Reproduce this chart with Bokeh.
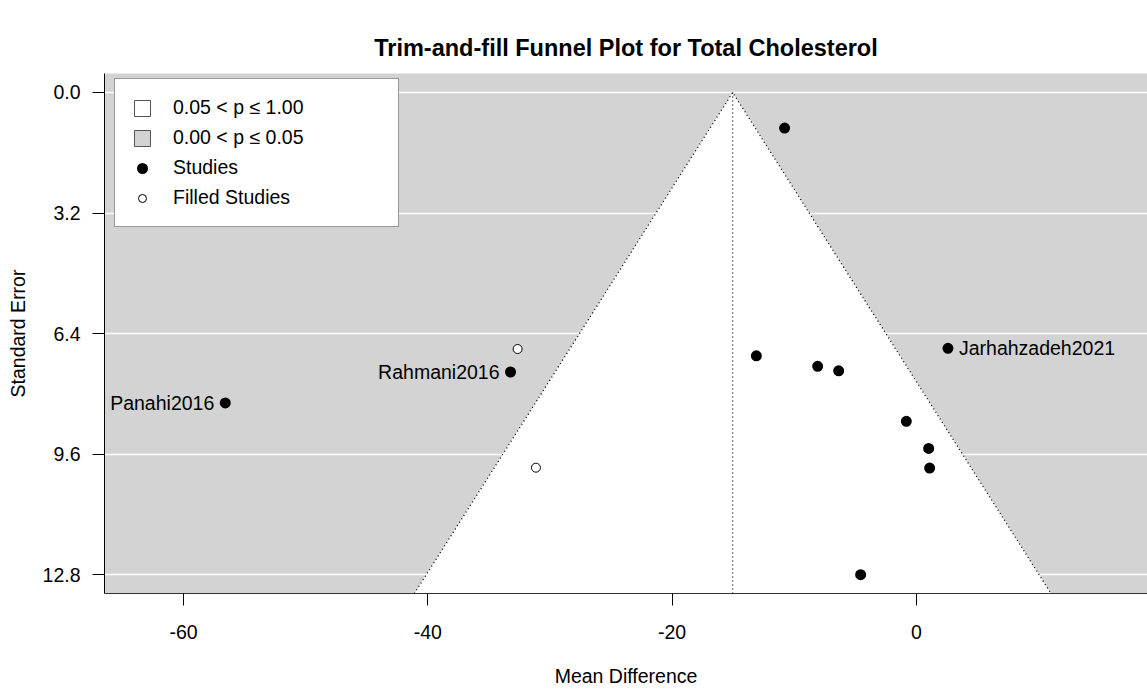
from bokeh.plotting import figure
from bokeh.models import (Range1d, FixedTicker, Legend, LegendItem, ColumnDataSource,
                          NumeralTickFormatter)
from bokeh.core.properties import value
from bokeh.embed import file_html
from bokeh.resources import INLINE

# ---------------- data ----------------
study_names = ["", "", "", "", "", "", "", "", "Jarhahzadeh2021", "Panahi2016", "Rahmani2016"]
study_md = [-10.79, -13.10, -8.08, -6.36, -0.82, 1.01, 1.09, -4.56, 2.59, -56.59, -33.23]
study_se = [0.946, 6.99, 7.27, 7.39, 8.73, 9.45, 9.97, 12.80, 6.79, 8.24, 7.42]

filled_md = [-32.65, -31.15]
filled_se = [6.81, 9.96]

pooled_estimate = -15.04
z_crit = 1.96

x_ticks = [-60, -40, -20, 0]
x_tick_labels = ["-60", "-40", "-20", "0"]
y_ticks = [0.0, 3.2, 6.4, 9.6, 12.8]

legend_labels = ["0.05 < p \u2264 1.00", "0.00 < p \u2264 0.05", "Studies", "Filled Studies"]

title_text = "Trim-and-fill Funnel Plot for Total Cholesterol"
x_title = "Mean Difference"
y_title = "Standard Error"

# ---------------- ranges ----------------
x_lo, x_hi = -66.48, 18.93
y_bottom, y_top = 13.30, -0.504

FONT = "Liberation Sans"
FS = "19.5px"
NAN = float("nan")

p = figure(width=1147, height=689, output_backend="svg", toolbar_location=None,
           x_range=Range1d(x_lo, x_hi), y_range=Range1d(y_bottom, y_top),
           min_border_left=104, min_border_right=0, min_border_top=73, min_border_bottom=95,
           title=title_text)

p.background_fill_color = "#D3D3D3"
p.border_fill_color = "white"
p.outline_line_color = None

# title
p.title.text_font = FONT
p.title.text_font_size = "23.5px"
p.title.text_font_style = "bold"
p.title.text_color = "black"
p.title.align = "center"
p.title.standoff = 26

# axes
p.xaxis.ticker = FixedTicker(ticks=x_ticks)
p.xaxis.major_label_overrides = {t: l for t, l in zip(x_ticks, x_tick_labels)}
p.yaxis.ticker = FixedTicker(ticks=y_ticks)
p.yaxis.formatter = NumeralTickFormatter(format="0.0")
p.xaxis.axis_label = x_title
p.yaxis.axis_label = y_title
for ax in (p.xaxis, p.yaxis):
    ax.axis_label_text_font = FONT
    ax.axis_label_text_font_size = FS
    ax.axis_label_text_font_style = "normal"
    ax.axis_label_text_color = "black"
    ax.major_label_text_font = FONT
    ax.major_label_text_font_size = FS
    ax.major_label_text_color = "black"
    ax.major_tick_out = 12
    ax.major_tick_in = 0
    ax.minor_tick_out = 0
    ax.minor_tick_in = 0
    ax.major_tick_line_color = "black"
p.xaxis.axis_line_color = "#333333"
p.yaxis.axis_line_color = "black"
p.xaxis.major_label_standoff = 19
p.yaxis.major_label_standoff = 12
p.xaxis.axis_label_standoff = 23
p.yaxis.axis_label_standoff = 11

p.xgrid.visible = False
p.ygrid.grid_line_color = "white"
p.ygrid.grid_line_width = 1.5

# white funnel region (0.05 < p <= 1.00)
half = z_crit * y_bottom
p.patch([pooled_estimate - half, pooled_estimate, pooled_estimate + half],
        [y_bottom, 0.0, y_bottom], fill_color="white", line_color=None)

# funnel edges (dotted)
p.line([pooled_estimate - half, pooled_estimate, pooled_estimate + half],
       [y_bottom, 0.0, y_bottom], line_color="black", line_width=1.3, line_dash="1 3")
# reference line at pooled estimate
p.segment(x0=[pooled_estimate], y0=[0.0], x1=[pooled_estimate], y1=[y_bottom],
          line_color="black", line_width=1.2, line_dash="1 3")

# legend-only square renderers (NaN data: nothing drawn in the plot)
r_white = p.quad(left=[NAN], right=[NAN], top=[NAN], bottom=[NAN],
                 fill_color="white", line_color="#555555")
r_grey = p.quad(left=[NAN], right=[NAN], top=[NAN], bottom=[NAN],
                fill_color="#D3D3D3", line_color="#555555")

# studies
src = ColumnDataSource(dict(md=study_md, se=study_se, name=study_names))
r_studies = p.scatter("md", "se", source=src, size=8, marker="circle",
                      fill_color="black", line_color="black", line_width=3)
r_filled = p.scatter(filled_md, filled_se, size=9, marker="circle",
                     fill_color="white", line_color="black", line_width=1)

# labels
left_idx = [i for i, n in enumerate(study_names) if n and study_md[i] < pooled_estimate]
right_idx = [i for i, n in enumerate(study_names) if n and study_md[i] >= pooled_estimate]
for idxs, align, off in ((left_idx, "right", -11), (right_idx, "left", 11)):
    p.text(x=[study_md[i] for i in idxs], y=[study_se[i] for i in idxs],
           text=[study_names[i] for i in idxs], x_offset=off,
           text_align=align, text_baseline="middle",
           text_font=value(FONT), text_font_size=value(FS), text_color="black")

legend = Legend(items=[LegendItem(label=legend_labels[0], renderers=[r_white]),
                       LegendItem(label=legend_labels[1], renderers=[r_grey]),
                       LegendItem(label=legend_labels[2], renderers=[r_studies]),
                       LegendItem(label=legend_labels[3], renderers=[r_filled])],
                location=(10, 366), glyph_width=20, glyph_height=20, label_height=20,
                label_width=208, spacing=7, padding=17, margin=0, label_standoff=21,
                label_text_font=FONT, label_text_font_size=FS, label_text_color="black",
                label_text_baseline="middle",
                border_line_color="#333333", border_line_width=1,
                background_fill_color="white", background_fill_alpha=1.0)
p.add_layout(legend)

open("out.html", "w").write(file_html(p, INLINE))
